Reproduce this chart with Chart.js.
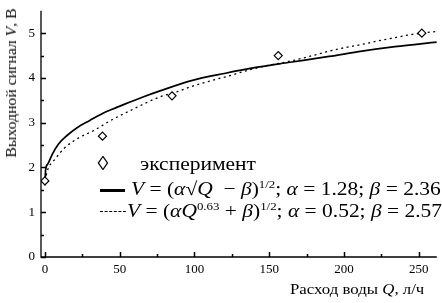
<!DOCTYPE html>
<html><head><meta charset="utf-8">
<script src="https://cdn.jsdelivr.net/npm/chart.js@4"></script>
<style>
html,body{margin:0;padding:0;background:#fff;}
#wrap{position:relative;width:442px;height:303px;font-family:"Liberation Serif","DejaVu Serif",serif;color:#000;}
canvas{position:absolute;left:0;top:0;}
.t{position:absolute;white-space:nowrap;line-height:1;}
.s{transform-origin:left center;transform:scaleX(1.13);}
i{font-style:italic;}
sup{font-size:0.6em;vertical-align:0;position:relative;top:-0.6em;}
</style></head>
<body><div id="wrap"><canvas id="c" width="442" height="303"></canvas>
<div class="t" style="font-size:14px;left:-68px;top:76px;width:160px;text-align:center;transform:rotate(-90deg) scaleX(1.12);transform-origin:center;">Выходной сигнал <i>V</i>, В</div>
<div class="t s" style="font-size:14px;left:290px;top:283px;transform:scaleX(1.2);">Расход воды <i>Q</i>, л/ч</div>
<div class="t" style="font-size:20px;left:98px;top:153px;transform:scaleX(1.1);">◊</div>
<div class="t s" style="font-size:19px;left:140px;top:154px;">эксперимент</div>
<div style="position:absolute;left:100px;top:189px;width:25px;height:3px;background:#000;"></div>
<div class="t s" style="font-size:19px;left:131px;top:179px;"><i>V</i> = (<i>α</i>√<i>Q</i>&nbsp; − <i>β</i>)<sup>1/2</sup>; <i>α</i> = 1.28; <i>β</i> = 2.36</div>
<div style="position:absolute;left:100px;top:211px;width:26px;height:0;border-top:1.5px dashed #000;"></div>
<div class="t s" style="font-size:19px;left:127px;top:201px;"><i>V</i> = (<i>αQ</i><sup>0.63</sup> + <i>β</i>)<sup>1/2</sup>; <i>α</i> = 0.52; <i>β</i> = 2.57</div>
</div>
<script>
// experimental points
const expQ = [0, 38.5, 85, 156, 252];
const expV = [1.7, 2.7, 3.6, 4.5, 5.0];
// solid fit curve
const fit1Q = [0, 0.5, 2, 5, 9, 15, 22, 30, 37, 45, 53, 66, 77, 98, 120, 142, 164, 190, 212, 234, 262];
const fit1V = [1.6, 1.95, 2.08, 2.3, 2.52, 2.72, 2.9, 3.05, 3.18, 3.3, 3.41, 3.58, 3.71, 3.94, 4.1, 4.24, 4.35, 4.48, 4.6, 4.7, 4.8];
// dashed fit curve
const fit2Q = [0, 2, 6.6, 13, 22, 33, 44, 57, 77, 89, 98, 109, 118, 145, 166, 179, 190, 201, 212, 223, 234, 245, 262];
const fit2V = [1.7, 1.96, 2.18, 2.43, 2.65, 2.83, 3.05, 3.27, 3.58, 3.7, 3.81, 3.92, 4.0, 4.25, 4.39, 4.5, 4.6, 4.68, 4.75, 4.83, 4.9, 4.97, 5.04];
const xTicks = [0, 50, 100, 150, 200, 250];
const yTicks = [0, 1, 2, 3, 4, 5];

const pts = (xs, ys) => xs.map((x, i) => ({x: x, y: ys[i]}));

const inwardTicks = {
  id: 'inwardTicks',
  afterDraw(chart) {
    const ctx = chart.ctx, xs = chart.scales.x, ys = chart.scales.y, a = chart.chartArea;
    ctx.save();
    ctx.strokeStyle = '#000';
    ctx.lineWidth = 1.3;
    ctx.beginPath();
    ctx.moveTo(a.left, a.top); ctx.lineTo(a.left, a.bottom); ctx.lineTo(a.right, a.bottom);
    ctx.stroke();
    ctx.lineWidth = 1.5;
    ys.ticks.forEach(t => {
      const p = Math.round(ys.getPixelForValue(t.value)) + 0.5;
      const major = Math.abs(t.value - Math.round(t.value)) < 1e-6;
      ctx.beginPath(); ctx.moveTo(a.left, p); ctx.lineTo(a.left + (major ? 5 : 3), p); ctx.stroke();
    });
    xs.ticks.forEach(t => {
      const p = Math.round(xs.getPixelForValue(t.value)) + 0.5;
      const major = t.value % 50 === 0;
      ctx.beginPath(); ctx.moveTo(p, a.bottom); ctx.lineTo(p, a.bottom - (major ? 5 : 3)); ctx.stroke();
    });
    ctx.restore();
  }
};

new Chart(document.getElementById('c'), {
  type: 'scatter',
  data: {
    datasets: [
      {data: pts(fit1Q, fit1V), showLine: true, borderColor: '#000', borderWidth: 1.7, pointRadius: 0, cubicInterpolationMode: 'monotone', order: 2},
      {data: pts(fit2Q, fit2V), showLine: true, borderColor: '#000', borderWidth: 1.3, borderDash: [2, 3.5], pointRadius: 0, cubicInterpolationMode: 'monotone', order: 3},
      {data: pts(expQ, expV), showLine: false, pointStyle: 'rectRot', pointRadius: 4, borderWidth: 1.2, borderColor: '#000', backgroundColor: '#fff', order: 1}
    ]
  },
  options: {
    responsive: false, animation: false,
    layout: {padding: {left: 0, right: 0, top: 5, bottom: 0}},
    plugins: {legend: {display: false}, tooltip: {enabled: false}},
    scales: {
      x: {
        type: 'linear', min: -2.6, max: 262,
        afterBuildTicks: s => { s.ticks = [0,25,50,75,100,125,150,175,200,225,250].map(v => ({value: v})); },
        ticks: {callback: v => xTicks.includes(v) ? String(v) : '', color: '#000', font: {family: 'Liberation Serif', size: 13}, padding: 1, maxRotation: 0, autoSkip: false},
        grid: {display: true, drawOnChartArea: false, drawTicks: true, tickLength: 4, color: 'rgba(0,0,0,0)'},
        border: {display: false},
        afterFit: s => { s.height = 46; }
      },
      y: {
        type: 'linear', min: 0, max: 5.5,
        afterBuildTicks: s => { s.ticks = [0,0.5,1,1.5,2,2.5,3,3.5,4,4.5,5].map(v => ({value: v})); },
        ticks: {callback: v => yTicks.includes(v) ? String(v) : '', color: '#000', font: {family: 'Liberation Serif', size: 13}, padding: 3, autoSkip: false},
        grid: {display: true, drawOnChartArea: false, drawTicks: true, tickLength: 3, color: 'rgba(0,0,0,0)'},
        border: {display: false},
        afterFit: s => { s.width = 41; }
      }
    }
  },
  plugins: [inwardTicks]
});
</script></body></html>
